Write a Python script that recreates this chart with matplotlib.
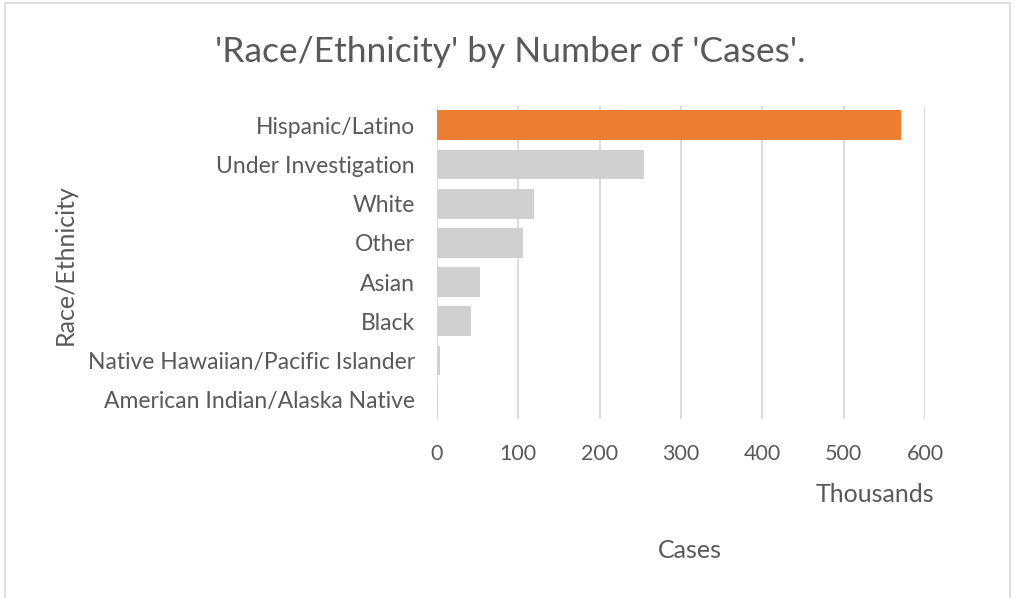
import matplotlib.pyplot as plt
from matplotlib.patches import Rectangle

plt.rcParams['font.family'] = ['Lato', 'DejaVu Sans']

# Cases by race/ethnicity, in thousands
groups = ['Hispanic/Latino', 'Under Investigation', 'White', 'Other',
          'Asian', 'Black', 'Native Hawaiian/Pacific Islander',
          'American Indian/Alaska Native']
cases_k = [570, 254, 119, 106, 52.5, 42, 4, 1.5]
highlight = 'Hispanic/Latino'

xticks = [0, 100, 200, 300, 400, 500, 600]

TEXT = '#595959'
GRID = '#d9d9d9'
ORANGE = '#ed7d31'
GREY = '#d0d0d0'

fig = plt.figure(figsize=(10.15, 5.98), dpi=100)
ax = fig.add_axes([0.4305, 0.2988, 0.4808, 0.5244])

colors = [ORANGE if g == highlight else GREY for g in groups]
ypos = list(range(len(groups)))
ax.barh(ypos, cases_k, height=0.76, color=colors, zorder=2)

ax.set_ylim(len(groups) - 0.5, -0.5)
ax.set_xlim(0, 600)
ax.set_xticks(xticks)
ax.set_xticklabels([str(t) for t in xticks])
ax.set_yticks(ypos)
ax.set_yticklabels(groups)

ax.grid(axis='x', color=GRID, linewidth=1.3, zorder=0)
for s in ax.spines.values():
    s.set_visible(False)
ax.tick_params(axis='both', length=0, colors=TEXT)
ax.tick_params(axis='x', pad=18, labelsize=15.5)
ax.tick_params(axis='y', pad=16, labelsize=16.5)

fig.text(0.503, 0.913, "'Race/Ethnicity' by Number of 'Cases'.",
         ha='center', va='center', fontsize=25.5, color=TEXT)
fig.text(0.064, 0.557, 'Race/Ethnicity', rotation=90,
         ha='center', va='center', fontsize=18, color=TEXT)
fig.text(0.862, 0.173, 'Thousands', ha='center', va='center',
         fontsize=18, color=TEXT)
fig.text(0.680, 0.079, 'Cases', ha='center', va='center',
         fontsize=18, color=TEXT)

# light chart-area frame
fig.add_artist(Rectangle((5 / 1015, -0.02), 1005 / 1015, 1.02 - 3 / 598,
                         transform=fig.transFigure, fill=False,
                         edgecolor=GRID, linewidth=1.2))

fig.savefig('out.png', dpi=100)
